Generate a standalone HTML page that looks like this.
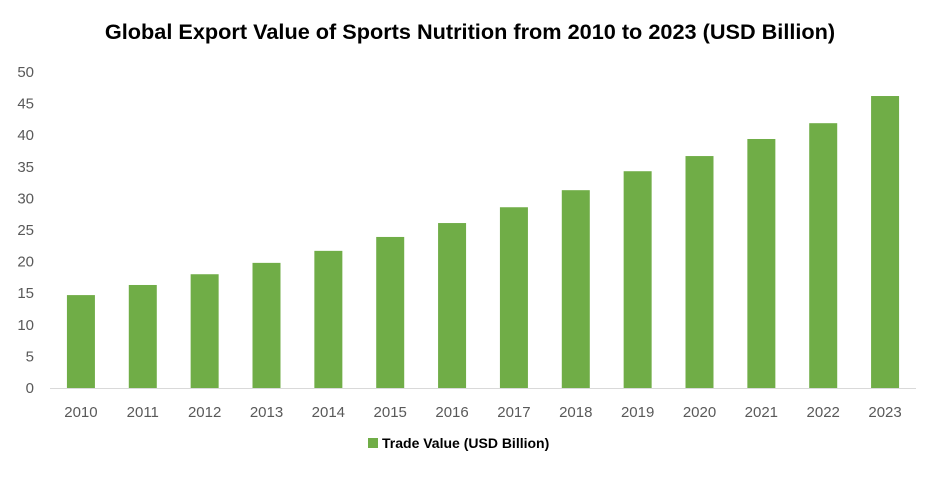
<!DOCTYPE html>
<html><head><meta charset="utf-8"><style>
body{margin:0;background:#fff;}
svg text{font-family:"Liberation Sans",sans-serif;}
</style></head><body>
<svg id="chart" width="940" height="484">
<text x="470" y="39" text-anchor="middle" font-size="21.7" font-weight="bold" fill="#000">Global Export Value of Sports Nutrition from 2010 to 2023 (USD Billion)</text>
<g id="yaxis"></g>
<g id="bars"></g>
<g id="xaxis"></g>
<g>
<rect x="368" y="438" width="10" height="10" fill="#70ad47"/>
<text x="382" y="448" font-size="14" font-weight="bold" fill="#000">Trade Value (USD Billion)</text>
</g>
</svg>
<script>
const categories=["2010","2011","2012","2013","2014","2015","2016","2017","2018","2019","2020","2021","2022","2023"];
const values=[14.7,16.3,18.0,19.8,21.7,23.9,26.1,28.6,31.3,34.3,36.7,39.4,41.9,46.2];
const yTicks=[0,5,10,15,20,25,30,35,40,45,50];
const NS="http://www.w3.org/2000/svg";
const plotLeft=50,plotRight=916,plotTop=72,plotBottom=388,yMax=50;
const yScale=v=>plotBottom-(v/yMax)*(plotBottom-plotTop);
const bw=(plotRight-plotLeft)/categories.length;
const xScale=i=>plotLeft+bw*(i+0.5);
function mk(t,a){const e=document.createElementNS(NS,t);for(const k in a)e.setAttribute(k,a[k]);return e;}
const ya=document.getElementById('yaxis'),ba=document.getElementById('bars'),xa=document.getElementById('xaxis');
yTicks.forEach(t=>{
 const tx=mk('text',{x:34,y:yScale(t)+5,'text-anchor':'end','font-size':'15',fill:'#595959'});
 tx.textContent=t;
 
 
 ya.appendChild(tx);
});
const ax=mk('line',{x1:plotLeft,x2:plotRight,y1:plotBottom+0.5,y2:plotBottom+0.5,stroke:'#d9d9d9','stroke-width':1});


xa.appendChild(ax);
values.forEach((v,i)=>{
 const r=mk('rect',{x:xScale(i)-14,y:yScale(v),width:28,height:plotBottom-yScale(v),fill:'#70ad47'});
 
 
 ba.appendChild(r);
});
categories.forEach((c,i)=>{
 const tx=mk('text',{x:xScale(i),y:417,'text-anchor':'middle','font-size':'15',fill:'#595959'});
 tx.textContent=c;
 
 
 xa.appendChild(tx);
});
</script>
</body></html>
